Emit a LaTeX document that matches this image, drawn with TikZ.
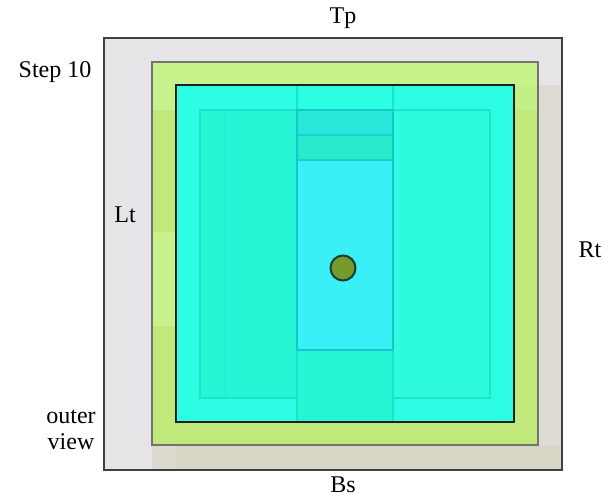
\documentclass[tikz,border=0pt]{standalone}
\usepackage{fontspec}
\setmainfont{Liberation Serif}
\definecolor{outerfill}{HTML}{E6E4E6}
\definecolor{tanA}{HTML}{DEDBD2}
\definecolor{tanB}{HTML}{D6D5C6}
\definecolor{tanC}{HTML}{DCDACF}
\definecolor{greenL}{HTML}{C8F28C}
\definecolor{greenD}{HTML}{C0E87A}
\definecolor{greenM}{HTML}{C4EE86}
\definecolor{cyanbox}{HTML}{2DFDE3}
\definecolor{innerL}{HTML}{27F5D6}
\definecolor{innerR}{HTML}{2DFADE}
\definecolor{innerEdge}{HTML}{1DE3C9}
\definecolor{bandA}{HTML}{28E9D9}
\definecolor{bandB}{HTML}{28EBCC}
\definecolor{bandC}{HTML}{38F0F5}
\definecolor{bandEdge}{HTML}{12C8C8}
\definecolor{dotfill}{HTML}{769A2E}
\definecolor{dotedge}{HTML}{173D33}
\tikzset{
  lbl/.style={font=\fontsize{24}{26}\selectfont, text=black, inner sep=0pt, align=center},
}
\begin{document}
\begin{tikzpicture}[x=1pt,y=-1pt]
\useasboundingbox (0,0) rectangle (615,499);
% outer panel
\fill[outerfill] (104,38) rectangle (562,470);
\fill[tanA] (538,85) rectangle (562,470);
\fill[tanB] (152,446) rectangle (562,470);
\fill[tanC] (152,446) rectangle (176,470);
% green frame
\fill[greenL] (152,62) rectangle (538,445);
\fill[greenD] (152,110) rectangle (176,232);
\fill[greenD] (152,326) rectangle (538,445);
\fill[greenM] (514,85) rectangle (538,110);
\fill[greenD] (514,110) rectangle (538,445);
\draw[color=black!55, line width=2pt] (152,62) rectangle (538,445);
% cyan box
\fill[cyanbox] (176,85) rectangle (514,422);
\fill[innerL] (200,110) rectangle (297,398);
\fill[innerR] (393,110) rectangle (490,400);
\draw[innerEdge, line width=1.5pt] (200,110) rectangle (490,398);
\draw[innerEdge!80!cyanbox, line width=1pt] (225,112) -- (225,397);
% middle column
\fill[innerL] (297,350) rectangle (393,422);
\draw[innerEdge, line width=1.2pt] (297,85) -- (297,422) (393,85) -- (393,422);
\fill[bandA] (297,110) rectangle (393,135);
\fill[bandB] (297,135) rectangle (393,160);
\fill[bandC] (297,160) rectangle (393,350);
\draw[bandEdge!70!bandA, line width=1.2pt] (297,135) -- (393,135);
\draw[bandEdge!70!bandB, line width=1.2pt] (297,160) -- (393,160);
\draw[bandEdge, line width=1.5pt] (297,110) rectangle (393,350);
% dot
\node[circle, minimum size=25pt, inner sep=0pt, fill=dotfill, draw=dotedge, line width=2pt] (dot) at (343,268) {};
% borders
\draw[color=black!88, line width=2.2pt] (176,85) rectangle (514,422);
\draw[color=black!75, line width=2.5pt] (104,38) rectangle (562,470);
% labels
\node[lbl] (tp) at (343,18) {Tp};
\node[lbl] (step) at (55,72) {Step 10};
\node[lbl] (lt) at (125,215) {Lt};
\node[lbl] (rt) at (590,250) {Rt};
\node[lbl] (ov) at (71,430) {outer\\view};
\node[lbl] (bs) at (343,485) {Bs};
\end{tikzpicture}
\end{document}
